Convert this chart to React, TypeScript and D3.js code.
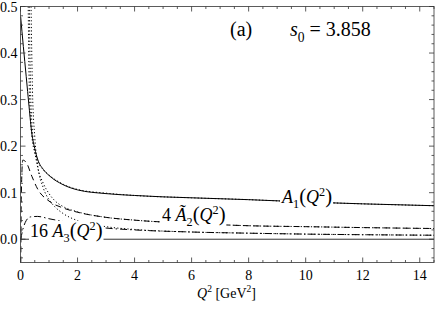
import { useEffect, useRef } from "react";
import * as d3 from "d3";

// Q^2 grid points (GeV^2) and curve values
const a1Q = [0.005, 0.1, 0.2, 0.3, 0.4, 0.5, 0.6, 0.8, 1, 1.5, 2, 3, 4, 5, 6, 8, 10, 12, 14.5];
const a1V = [0.478, 0.414, 0.35, 0.285, 0.226, 0.195, 0.172, 0.15, 0.137, 0.117, 0.106, 0.098, 0.094, 0.091, 0.089, 0.085, 0.08, 0.076, 0.072];

const a2Q = [0.01, 0.03, 0.08, 0.2, 0.4, 0.6, 1, 1.5, 2, 3, 4, 6, 8, 10, 12, 14.5];
const a2V = [-0.05, 0.1, 0.17, 0.165, 0.135, 0.108, 0.082, 0.067, 0.058, 0.047, 0.041, 0.034, 0.029, 0.027, 0.025, 0.023];

const a3Q = [0.005, 0.1, 0.2, 0.35, 0.6, 1, 1.5, 2, 3, 4, 6, 8, 10, 12, 14.5];
const a3V = [0, 0.025, 0.04, 0.048, 0.049, 0.044, 0.038, 0.032, 0.024, 0.02, 0.0155, 0.013, 0.011, 0.0097, 0.0086];

// perturbative (dotted) counterparts with a pole near Q^2 ~ 0.3
const d1Q = [0.27, 0.3, 0.35, 0.4, 0.5, 0.6, 0.8, 1, 1.5, 2, 3, 4, 6, 8, 10, 12, 14.5];
const d1V = [0.5, 0.35, 0.26, 0.22, 0.186, 0.168, 0.149, 0.138, 0.118, 0.107, 0.099, 0.094, 0.089, 0.085, 0.08, 0.076, 0.072];
const d2Q = [0.31, 0.35, 0.4, 0.5, 0.6, 0.8, 1, 1.2, 1.5, 2, 3, 4, 6, 8, 10, 12, 14.5];
const d2V = [0.5, 0.33, 0.25, 0.19, 0.155, 0.12, 0.098, 0.083, 0.07, 0.059, 0.047, 0.041, 0.034, 0.029, 0.027, 0.025, 0.023];
const d3Q = [0.37, 0.42, 0.5, 0.6, 0.8, 1, 1.2, 1.5, 2, 3, 4, 6, 8, 10, 12, 14.5];
const d3V = [0.5, 0.32, 0.22, 0.16, 0.11, 0.085, 0.07, 0.055, 0.04, 0.027, 0.021, 0.0155, 0.013, 0.011, 0.0097, 0.0086];

const xTicks = [0, 2, 4, 6, 8, 10, 12, 14];
const yTicks = [0, 0.1, 0.2, 0.3, 0.4, 0.5];

const W = 436;
const H = 312;
const FONT = "'Liberation Serif', 'DejaVu Serif', 'Times New Roman', serif";

type Seg = { t: string; i?: boolean; sub?: boolean; sup?: boolean; big?: boolean };

export default function App() {
  const ref = useRef<SVGSVGElement | null>(null);

  useEffect(() => {
    if (!ref.current) return;
    const svg = d3.select(ref.current);
    svg.selectAll("*").remove();

    const x = d3.scaleLinear().domain([0, 14.5]).range([20.5, 434]);
    const y = d3.scaleLinear().domain([-0.05, 0.5]).range([262.5, 6.5]);
    const [x0, x1] = x.range();
    const [y0, y1] = y.range();

    svg.append("rect").attr("width", W).attr("height", H).attr("fill", "#fff");
    svg.append("defs").append("clipPath").attr("id", "plot-clip")
      .append("rect").attr("x", x0).attr("y", y1).attr("width", x1 - x0).attr("height", y0 - y1);

    // zero line
    svg.append("line")
      .attr("x1", x0).attr("x2", x1).attr("y1", y(0)).attr("y2", y(0))
      .attr("stroke", "#333").attr("stroke-width", 1);

    const line = d3.line<[number, number]>()
      .x(d => x(d[0]))
      .y(d => y(d[1]))
      .curve(d3.curveMonotoneX);

    const zip = (q: number[], v: number[]) => q.map((d, i) => [d, v[i]] as [number, number]);

    const curves = [
      { data: zip(d1Q, d1V), dash: "1.2,2.2" },
      { data: zip(d2Q, d2V), dash: "1.2,2.2" },
      { data: zip(d3Q, d3V), dash: "1.2,2.2" },
      { data: zip(a1Q, a1V), dash: null },
      { data: zip(a2Q, a2V), dash: "6,4" },
      { data: zip(a3Q, a3V), dash: "7,3,1.5,3" },
    ];
    const g = svg.append("g").attr("clip-path", "url(#plot-clip)");
    curves.forEach(c => {
      g.append("path")
        .datum(c.data)
        .attr("fill", "none")
        .attr("stroke", "#000")
        .attr("stroke-width", 1)
        .attr("stroke-dasharray", c.dash)
        .attr("d", line);
    });

    // rich text helper (italic, sub/superscripts), optional white box behind
    const label = (px: number, py: number, size: number, segs: Seg[], box = false) => {
      const lg = svg.append("g");
      const bg = box ? lg.append("rect").attr("fill", "#fff") : null;
      const t = lg.append("text").attr("x", px).attr("y", py)
        .style("font-family", FONT).style("font-size", size + "px").attr("fill", "#000");
      let shift = 0;
      segs.forEach(s => {
        const target = s.sub ? size * 0.28 : s.sup ? -size * 0.4 : 0;
        t.append("tspan")
          .attr("dy", target - shift)
          .style("font-size", (s.sub || s.sup ? size * 0.68 : s.big ? size * 1.15 : size) + "px")
          .style("font-style", s.i ? "italic" : "normal")
          .text(s.t);
        shift = target;
      });
      if (bg) {
        const b = (t.node() as SVGTextElement).getBBox();
        bg.attr("x", b.x - 1).attr("y", b.y + 2).attr("width", b.width + 2).attr("height", b.height - 3);
      }
    };

    label(30, 237, 18, [
      { t: "16 " }, { t: "A", i: true }, { t: "3", sub: true }, { t: "(", big: true },
      { t: "Q", i: true }, { t: "2", sup: true }, { t: ")", big: true },
    ], true);
    label(162, 221, 18, [
      { t: "4 " }, { t: "Ã", i: true }, { t: "2", sub: true }, { t: "(", big: true },
      { t: "Q", i: true }, { t: "2", sup: true }, { t: ")", big: true },
    ], true);
    label(282, 203, 18, [
      { t: "A", i: true }, { t: "1", sub: true }, { t: "(", big: true },
      { t: "Q", i: true }, { t: "2", sup: true }, { t: ")", big: true },
    ], true);

    // frame with inward ticks on all sides
    const frame = svg.append("g").attr("stroke", "#333").attr("stroke-width", 0.8);
    frame.append("rect")
      .attr("x", x0).attr("y", y1).attr("width", x1 - x0).attr("height", y0 - y1)
      .attr("fill", "none");

    const xMinor = d3.range(0, 14.51, 0.5);
    xMinor.forEach(v => {
      const major = Math.abs(v / 2 - Math.round(v / 2)) < 1e-6;
      const len = major ? 5 : 2.5;
      frame.append("line").attr("x1", x(v)).attr("x2", x(v)).attr("y1", y0).attr("y2", y0 - len);
      frame.append("line").attr("x1", x(v)).attr("x2", x(v)).attr("y1", y1).attr("y2", y1 + len);
    });
    const yMinor = d3.range(-0.04, 0.501, 0.02);
    yMinor.forEach(v => {
      const major = Math.abs(v * 10 - Math.round(v * 10)) < 1e-6;
      const len = major ? 5 : 2.5;
      frame.append("line").attr("y1", y(v)).attr("y2", y(v)).attr("x1", x0).attr("x2", x0 + len);
      frame.append("line").attr("y1", y(v)).attr("y2", y(v)).attr("x1", x1).attr("x2", x1 - len);
    });

    // tick labels
    svg.append("g").selectAll("text").data(xTicks).join("text")
      .attr("x", d => x(d)).attr("y", 280)
      .attr("text-anchor", "middle")
      .style("font-family", FONT).style("font-size", "14px")
      .text(d => String(d));
    svg.append("g").selectAll("text").data(yTicks).join("text")
      .attr("x", 17.5).attr("y", d => y(d) + 5)
      .attr("text-anchor", "end")
      .style("font-family", FONT).style("font-size", "14px")
      .text(d => d.toFixed(1));

    // panel tag and parameter
    label(230, 36, 20, [{ t: "(a)" }]);
    label(290, 36, 20, [{ t: "s", i: true }, { t: "0", sub: true }, { t: " = 3.858" }]);

    // axis title
    label(197, 298, 14, [
      { t: "Q", i: true }, { t: "2", sup: true }, { t: "  [GeV" }, { t: "2", sup: true }, { t: "]" },
    ]);
  }, []);

  return (
    <svg ref={ref} width={W} height={H} style={{ position: "absolute", left: 0, top: 0 }} />
  );
}
